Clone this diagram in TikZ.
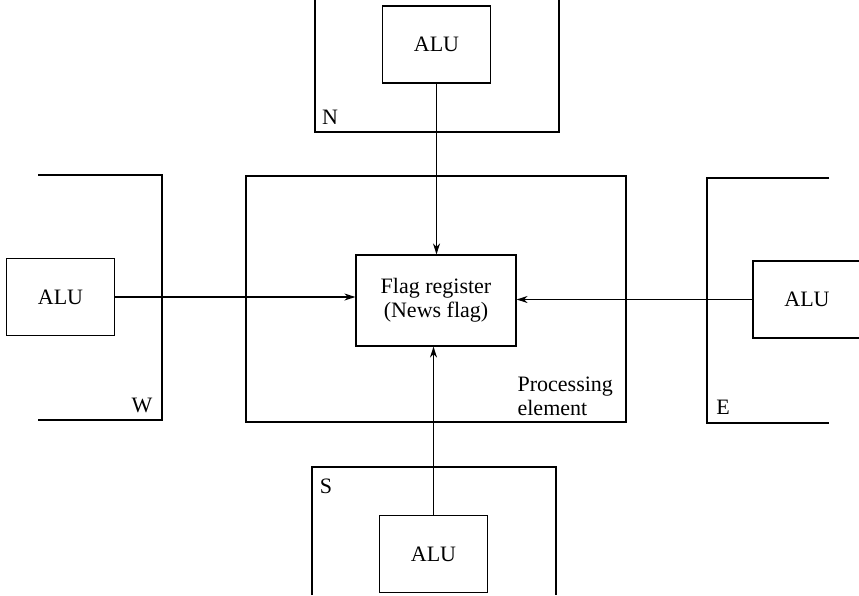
\documentclass[tikz,border=0pt]{standalone}
\usepackage{fontspec}
\setmainfont{Liberation Serif}
\usetikzlibrary{arrows.meta}
\begin{document}
\begin{tikzpicture}[x=1pt,y=-1pt, line width=1.2pt,
  font=\fontsize{22}{24}\selectfont,
  box/.style={draw, inner sep=0pt, align=center},
  alubox/.style={box, minimum width=108pt, minimum height=77pt},
  link/.style={line width=1.3pt, -{Stealth[length=11pt,width=7pt]}},
  lbl/.style={inner sep=0pt}]
\useasboundingbox (0,0) rectangle (859,595);
\clip (0,0) rectangle (859,595);
% processing element and flag register
\node[box, minimum width=380pt, minimum height=246pt] (pe) at (436,299) {};
\node[box, minimum width=160pt, minimum height=91pt] (flag) at (436,300.5) {Flag register\\(News flag)};
\node[lbl, anchor=west, align=left] (pelbl) at (517,396) {Processing\\element};
% neighbour regions
\draw (315,0) -- (315,132) -- (559,132) -- (559,0);
\draw (38,175) -- (162,175) -- (162,420) -- (38,420);
\draw (829,178) -- (707,178) -- (707,423) -- (829,423);
\draw (312,595) -- (312,467) -- (556,467) -- (556,595);
% ALUs
\node[alubox] (aluN) at (436.5,44.5) {ALU};
\node[alubox] (aluW) at (60.5,297) {ALU};
\node[alubox] (aluE) at (807,299.5) {ALU};
\node[alubox] (aluS) at (433.5,554) {ALU};
% labels
\node[lbl] (lN) at (330,117) {N};
\node[lbl] (lW) at (142,405) {W};
\node[lbl] (lE) at (723,407) {E};
\node[lbl] (lS) at (326,486) {S};
% connectors
\draw[link] (aluN.south) -- (aluN.south |- flag.north);
\draw[link] (aluS.north) -- (aluS.north |- flag.south);
\draw[link] (aluW.east) -- (aluW.east -| flag.west);
\draw[link] (aluE.west) -- (aluE.west -| flag.east);
\end{tikzpicture}
\end{document}
